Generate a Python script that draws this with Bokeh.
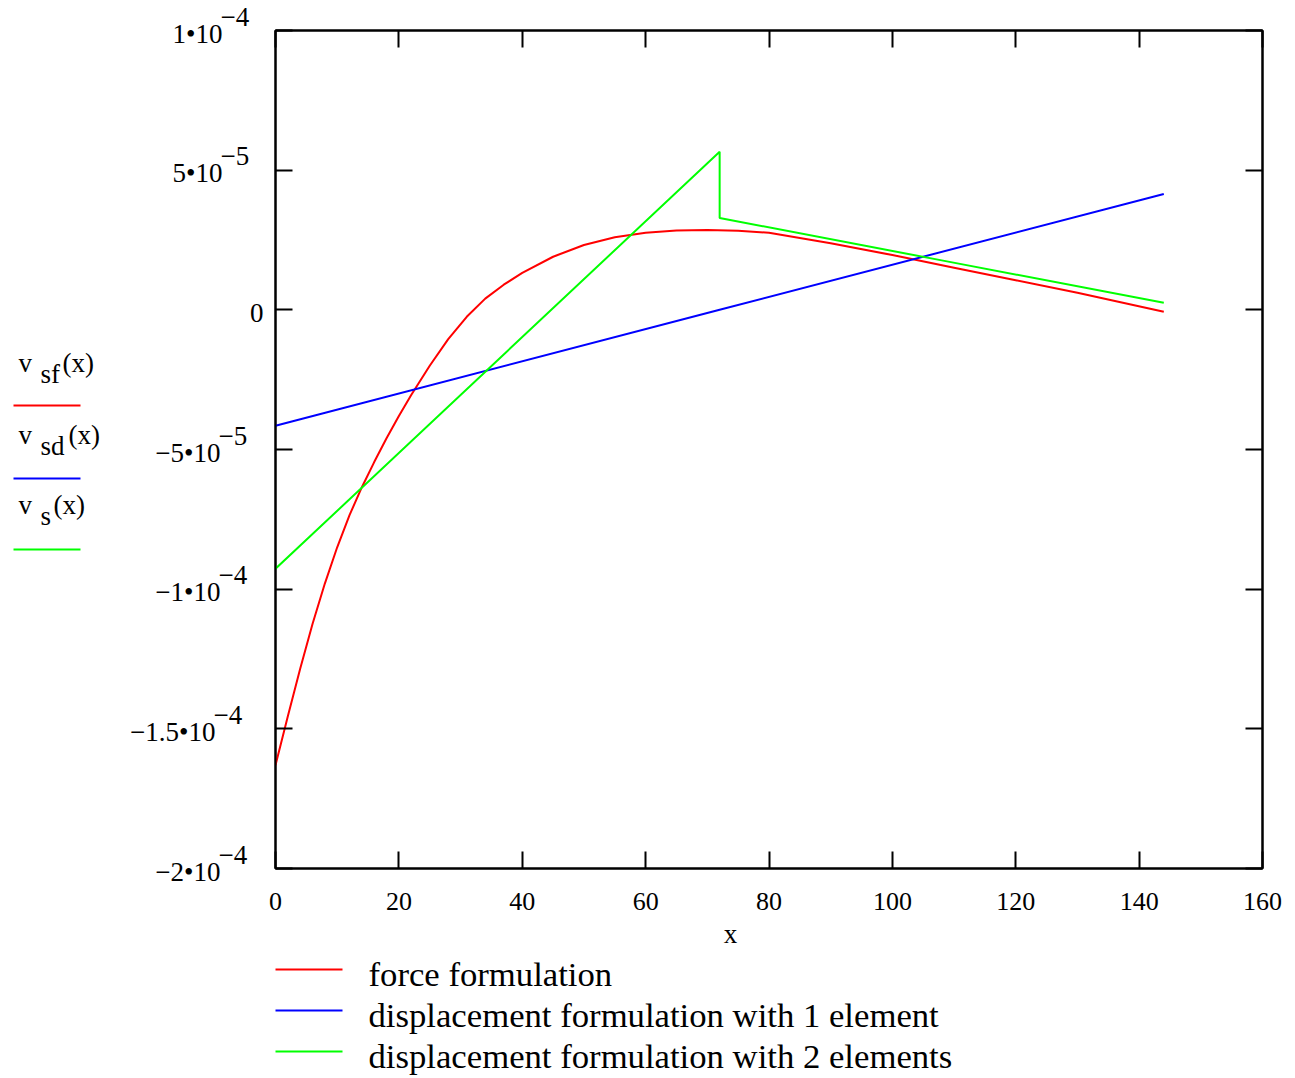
import numpy as np
from bokeh.plotting import figure
from bokeh.models import (Range1d, LinearAxis, FixedTicker, CustomJSTickFormatter,
                          ColumnDataSource)
from bokeh.core.properties import value
from bokeh.embed import file_html
from bokeh.resources import INLINE

# ---------------- data (v values in units of 1e-6) ----------------
x_force = [0, 2, 4, 6, 8, 10, 12, 14, 16, 18, 20, 22, 25, 28, 31, 34, 37, 40, 45, 50,
           55, 60, 65, 70, 75, 80, 90, 100, 110, 120, 130, 144]
v_force = [-163, -145.5, -128.5, -112.5, -98, -85, -73.5, -63.5, -54.5, -46, -38, -30.5,
           -20, -10.5, -2.5, 4, 9, 13.2, 19, 23.2, 26, 27.6, 28.4, 28.6, 28.3, 27.6,
           23.8, 19.6, 15.1, 10.6, 6.1, -0.7]

x_disp1 = [0, 72, 144]
v_disp1 = [-41.5, 0.0, 41.5]

x_disp2 = [0, 72, 72, 108, 144]
v_disp2 = [-92.7, 56.6, 32.9, 17.7, 2.5]

x_ticks = [0, 20, 40, 60, 80, 100, 120, 140, 160]
y_ticks = [-2e-4, -1.5e-4, -1e-4, -5e-5, 0.0, 5e-5, 1e-4]
y_tick_mantissa = ["\u22122\u202210", "\u22121.5\u202210", "\u22121\u202210", "\u22125\u202210",
                   "0", "5\u202210", "1\u202210"]
y_tick_exponent = ["\u22124", "\u22124", "\u22124", "\u22125", "", "\u22125", "\u22124"]

trace_var = ["v", "v", "v"]
trace_sub = ["sf", "sd", "s"]
trace_arg = ["(x)", "(x)", "(x)"]
legend_labels = ["force formulation",
                 "displacement formulation with 1 element",
                 "displacement formulation with 2 elements"]
colors = ["#ff0000", "#0000ff", "#00ff00"]

# ---------------- layout ----------------
W, H = 1295, 1078
L, R, T, B = 275, 33, 30, 210
X0, X1 = 0, 160
Y0, Y1 = -2e-4, 1e-4
FW, FH = W - L - R, H - T - B
FONT = "Liberation Serif"
RAISE = 11  # pixels: compensates the text baseline placement of the svg backend


def dx(px):
    return X0 + (px - L) / FW * (X1 - X0)


def dy(py):
    return Y1 - (py - T) / FH * (Y1 - Y0)


def pix(n):
    return n / FH * (Y1 - Y0)


p = figure(width=W, height=H, output_backend="svg", toolbar_location=None,
           x_range=Range1d(X0, X1), y_range=Range1d(Y0, Y1),
           min_border_left=L, min_border_right=R, min_border_top=T, min_border_bottom=B)
p.xgrid.visible = False
p.ygrid.visible = False
p.outline_line_color = "black"
p.outline_line_width = 2
p.background_fill_color = "white"
p.border_fill_color = "white"

empty = CustomJSTickFormatter(code="return ''")


def style_axis(ax, ticks, labels=True):
    ax.ticker = FixedTicker(ticks=ticks, minor_ticks=[])
    ax.axis_line_color = "black"
    ax.axis_line_width = 2
    ax.major_tick_in = 17
    ax.major_tick_out = 0
    ax.major_tick_line_width = 2
    ax.major_tick_line_color = "black"
    ax.minor_tick_in = 0
    ax.minor_tick_out = 0
    if not labels:
        ax.formatter = empty
        ax.major_label_standoff = 0


style_axis(p.xaxis[0], x_ticks)
p.xaxis[0].major_label_text_font = FONT
p.xaxis[0].major_label_text_font_size = "26px"
p.xaxis[0].major_label_text_color = "black"
p.xaxis[0].major_label_standoff = 24
style_axis(p.yaxis[0], y_ticks, labels=False)

top_ax = LinearAxis()
style_axis(top_ax, x_ticks, labels=False)
p.add_layout(top_ax, "above")
right_ax = LinearAxis()
style_axis(right_ax, y_ticks, labels=False)
p.add_layout(right_ax, "right")

# ---------------- curves ----------------
src_f = ColumnDataSource(dict(x=x_force, y=np.array(v_force) * 1e-6))
src_d1 = ColumnDataSource(dict(x=x_disp1, y=np.array(v_disp1) * 1e-6))
src_d2 = ColumnDataSource(dict(x=x_disp2, y=np.array(v_disp2) * 1e-6))
r_f = p.line("x", "y", source=src_f, line_color=colors[0], line_width=2)
r_d1 = p.line("x", "y", source=src_d1, line_color=colors[1], line_width=2)
r_d2 = p.line("x", "y", source=src_d2, line_color=colors[2], line_width=2)

# ---------------- texts outside the frame (overlay level is not clipped) ----------------
txt = dict(x=[], y=[], text=[], align=[], size=[])


def add_text(x, y, text, align="left", size="27px"):
    txt["x"].append(x)
    txt["y"].append(y + pix(RAISE))
    txt["text"].append(text)
    txt["align"].append(align)
    txt["size"].append(size)


# y tick labels
mantissa_right = [220, 215, 220, 220, 263, 222, 222]
for t, m, e, rx in zip(y_ticks, y_tick_mantissa, y_tick_exponent, mantissa_right):
    add_text(dx(rx), t - pix(14), m, "right")
    if e:
        add_text(dx(rx - 2), t + pix(3), e, "left")

# x axis title
add_text(dx(730), dy(944), "x", "center")

# trace names at the left
name_base = [373, 445, 515]
arg_left = [62, 68, 53]
sample_y = [405, 478, 549]
for i in range(3):
    b = name_base[i]
    add_text(dx(18), dy(b), trace_var[i])
    add_text(dx(40), dy(b + 11), trace_sub[i])
    add_text(dx(arg_left[i]), dy(b), trace_arg[i])

# bottom legend texts
leg_line_y = [969, 1010, 1051]
for i in range(3):
    add_text(dx(368), dy(leg_line_y[i] + 16), legend_labels[i], "left", "34.7px")

p.text(x="x", y="y", text="text", source=ColumnDataSource(txt),
       text_align="align", text_font_size="size", text_baseline="alphabetic",
       text_font=value(FONT), text_color="black", level="overlay")

# sample lines (trace names and legend)
seg = dict(x0=[dx(13)] * 3 + [dx(275)] * 3, x1=[dx(80)] * 3 + [dx(342)] * 3,
           y0=[dy(v) for v in sample_y] + [dy(v) for v in leg_line_y],
           y1=[dy(v) for v in sample_y] + [dy(v) for v in leg_line_y],
           color=colors + colors)
p.segment(x0="x0", y0="y0", x1="x1", y1="y1", source=ColumnDataSource(seg),
          line_color="color", line_width=2, level="overlay")

open("out.html", "w").write(file_html(p, INLINE))
